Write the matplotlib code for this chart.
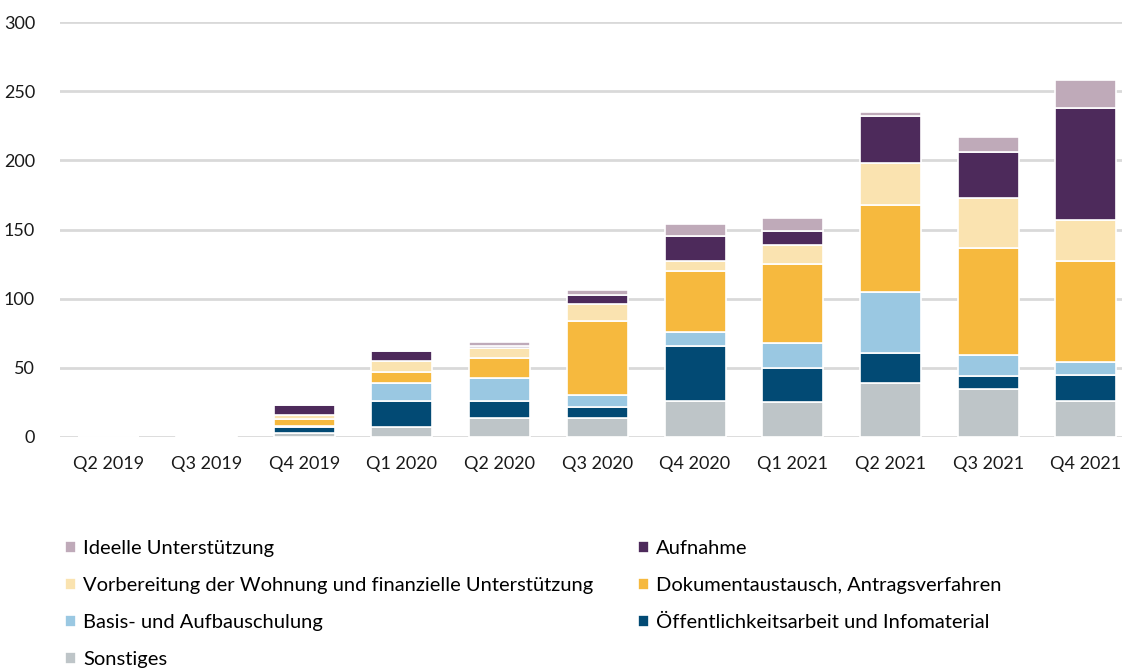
import matplotlib.pyplot as plt
import numpy as np

plt.rcParams['font.family'] = ['Lato', 'DejaVu Sans']

# DATA
quarters = ['Q2 2019', 'Q3 2019', 'Q4 2019', 'Q1 2020', 'Q2 2020', 'Q3 2020',
            'Q4 2020', 'Q1 2021', 'Q2 2021', 'Q3 2021', 'Q4 2021']

sonstiges      = [0, 0, 3, 7, 14, 14, 26, 25, 39, 35, 26]
oeffentlich    = [0, 0, 4, 19, 12, 8, 40, 25, 22, 9, 19]
basis          = [0, 1, 1, 13, 17, 8, 10, 18, 44, 15, 9]
dokument       = [0, 0, 5, 8, 14, 54, 44, 57, 63, 78, 73]
vorbereitung   = [0, 0, 3, 8, 7, 12, 7, 14, 30, 36, 30]
aufnahme       = [0, 0, 7, 7, 2, 7, 18, 10, 34, 33, 81]
ideelle        = [0, 0, 0, 0, 3, 3, 9, 9, 3, 11, 20]

# stacking order bottom -> top
series = [
    ('Sonstiges', sonstiges, '#bec5c8'),
    ('Öffentlichkeitsarbeit und Infomaterial', oeffentlich, '#024a74'),
    ('Basis- und Aufbauschulung', basis, '#9ac8e2'),
    ('Dokumentaustausch, Antragsverfahren', dokument, '#f6b93e'),
    ('Vorbereitung der Wohnung und finanzielle Unterstützung', vorbereitung, '#fae3b0'),
    ('Aufnahme', aufnahme, '#4d2a5b'),
    ('Ideelle Unterstützung', ideelle, '#bfaab9'),
]

fig = plt.figure(figsize=(11.22, 6.69), dpi=100)
ax = fig.add_axes([0.0535, 0.3468, 0.9465, 0.6202])

x = np.arange(len(quarters))
bottom = np.zeros(len(quarters))
handles = {}
for name, vals, col in series:
    vals = np.array(vals, dtype=float)
    b = ax.bar(x, vals, width=0.625, bottom=bottom, color=col,
               edgecolor='white', linewidth=1.2, label=name, zorder=3)
    handles[name] = b
    bottom += vals

ax.set_ylim(0, 300)
ax.set_xlim(-0.5, 10.37)
ax.set_yticks(range(0, 301, 50))
ax.set_xticks(x)
ax.set_xticklabels(quarters)
ax.yaxis.grid(True, color='#d9d9d9', linewidth=2, zorder=0)
ax.tick_params(axis='both', length=0, labelsize=13, colors='#1a1a1a')
ax.tick_params(axis='y', pad=18)
ax.tick_params(axis='x', pad=14)
for s in ax.spines.values():
    s.set_visible(False)

order = ['Ideelle Unterstützung',
         'Vorbereitung der Wohnung und finanzielle Unterstützung',
         'Basis- und Aufbauschulung',
         'Sonstiges',
         'Aufnahme',
         'Dokumentaustausch, Antragsverfahren',
         'Öffentlichkeitsarbeit und Infomaterial']
fig.legend([handles[n] for n in order], order, loc='upper left',
           bbox_to_anchor=(0.058, 0.193), ncol=2, frameon=False,
           fontsize=14.5, handlelength=0.55, handleheight=0.55,
           handletextpad=0.35, labelspacing=1.0, columnspacing=2.2,
           borderaxespad=0, borderpad=0)

fig.savefig('out.png', dpi=100)
